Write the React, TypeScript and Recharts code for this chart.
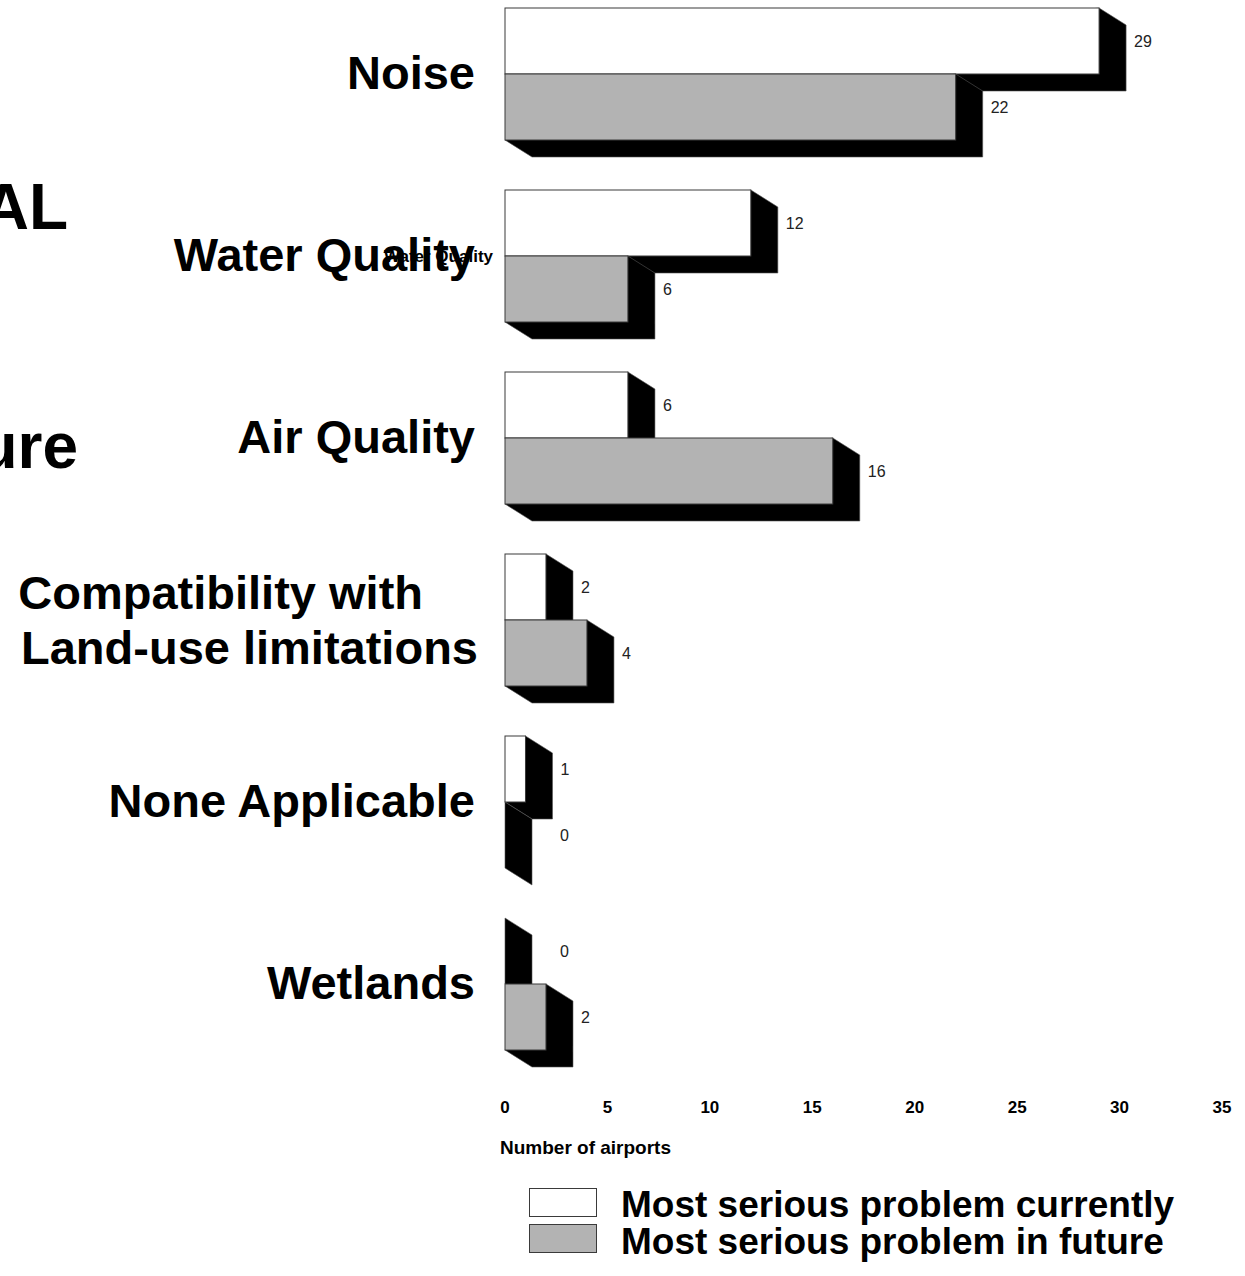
import React from "react";
import { BarChart, Bar, XAxis, YAxis, LabelList, Label } from "recharts";

const categories = [
  "Noise",
  "Water Quality",
  "Air Quality",
  "Compatibility with\nLand-use limitations",
  "None Applicable",
  "Wetlands",
];
const currentValues = [29, 12, 6, 2, 1, 0];
const futureValues = [22, 6, 16, 4, 0, 2];
const xTicks = [0, 5, 10, 15, 20, 25, 30, 35];
const seriesNames = ["Most serious problem currently", "Most serious problem in future"];

const data = categories.map((name, i) => ({
  name,
  current: currentValues[i],
  future: futureValues[i],
}));

const FONT = "'Liberation Sans', Arial, Helvetica, sans-serif";
const DX = 27;
const DY = 17;

// bar with a black drop "extrusion" to the lower right
function ShadowBar(props: any) {
  const { x, y, width, height, fill } = props;
  const x0 = x, x1 = x + width, y0 = y, y1 = y + height;
  const pts = `${x1},${y0} ${x1 + DX},${y0 + DY} ${x1 + DX},${y1 + DY} ${x0 + DX},${y1 + DY} ${x0},${y1}`;
  return (
    <g>
      <polygon points={pts} fill="#000" stroke="#555" strokeWidth={0.6} />
      {width > 0 && (
        <rect x={x0} y={y0} width={width} height={height} fill={fill} stroke="#3a3a3a" strokeWidth={1} />
      )}
    </g>
  );
}

function ValueLabel(props: any) {
  const { x, y, width, height, value } = props;
  const off = value === 0 ? 55 : 35;
  return (
    <text x={x + width + off} y={y + height / 2 + 6} fontFamily={FONT} fontSize={16} fill="#222">
      {value}
    </text>
  );
}

function CategoryTick({ x, y, payload }: any) {
  const lines = String(payload.value).split("\n");
  const tx = x - 30;
  return (
    <g>
      {lines.length === 1 ? (
        <text x={tx} y={y + 15} textAnchor="end" fontFamily={FONT} fontWeight="bold" fontSize={47} fill="#000">
          {lines[0]}
        </text>
      ) : (
        <text textAnchor="end" fontFamily={FONT} fontWeight="bold" fontSize={47} fill="#000">
          <tspan x={tx - 52} y={y - 11} textAnchor="end">{lines[0]}</tspan>
          <tspan x={tx + 3} y={y + 44} textAnchor="end">{lines[1]}</tspan>
        </text>
      )}
      {payload.value === "Water Quality" && (
        <text x={x - 12} y={y + 6} textAnchor="end" fontFamily={FONT} fontWeight="bold" fontSize={17} fill="#000">
          {payload.value}
        </text>
      )}
    </g>
  );
}

function NumberTick({ x, y, payload }: any) {
  return (
    <text x={x} y={y + 38} textAnchor="middle" fontFamily={FONT} fontWeight="bold" fontSize={17} fill="#000">
      {payload.value}
    </text>
  );
}

export default function App() {
  return (
    <div style={{ position: "absolute", left: 0, top: 0, width: 1245, height: 1276, background: "#fff" }}>
      <BarChart
        width={1245}
        height={1276}
        data={data}
        layout="vertical"
        barCategoryGap={25}
        barGap={0}
        margin={{ top: -17, right: 23, bottom: 1, left: 0 }}
      >
        <XAxis
          type="number"
          domain={[0, 35]}
          ticks={xTicks}
          axisLine={false}
          tickLine={false}
          tickSize={0}
          tickMargin={0}
          height={200}
          tick={<NumberTick />}
          interval={0}
        >
          <Label
            content={(p: any) => (
              <text
                x={p.viewBox.x - 5}
                y={p.viewBox.y + 79}
                fontFamily={FONT}
                fontWeight="bold"
                fontSize={19}
                fill="#000"
              >
                Number of airports
              </text>
            )}
          />
        </XAxis>
        <YAxis
          type="category"
          dataKey="name"
          width={505}
          axisLine={false}
          tickLine={false}
          tickSize={0}
          tickMargin={0}
          interval={0}
          tick={<CategoryTick />}
        />
        <Bar dataKey="current" name={seriesNames[0]} fill="#ffffff" shape={<ShadowBar />} isAnimationActive={false}>
          <LabelList dataKey="current" content={<ValueLabel />} />
        </Bar>
        <Bar dataKey="future" name={seriesNames[1]} fill="#b3b3b3" shape={<ShadowBar />} isAnimationActive={false}>
          <LabelList dataKey="future" content={<ValueLabel />} />
        </Bar>
      </BarChart>
      <svg
        width={1245}
        height={1276}
        style={{ position: "absolute", left: 0, top: 0, pointerEvents: "none" }}
      >
        <text x={68} y={229} textAnchor="end" fontFamily={FONT} fontWeight="bold" fontSize={64} fill="#000">AL</text>
        <text x={78} y={468} textAnchor="end" fontFamily={FONT} fontWeight="bold" fontSize={64} fill="#000">ure</text>
        <rect x={529.5} y={1188.5} width={67} height={28} fill="#fff" stroke="#3a3a3a" strokeWidth={1} />
        <rect x={529.5} y={1224.5} width={67} height={28} fill="#b3b3b3" stroke="#3a3a3a" strokeWidth={1} />
        <text x={621} y={1217} fontFamily={FONT} fontWeight="bold" fontSize={37} fill="#000">{seriesNames[0]}</text>
        <text x={621} y={1254} fontFamily={FONT} fontWeight="bold" fontSize={37} fill="#000">{seriesNames[1]}</text>
      </svg>
    </div>
  );
}
